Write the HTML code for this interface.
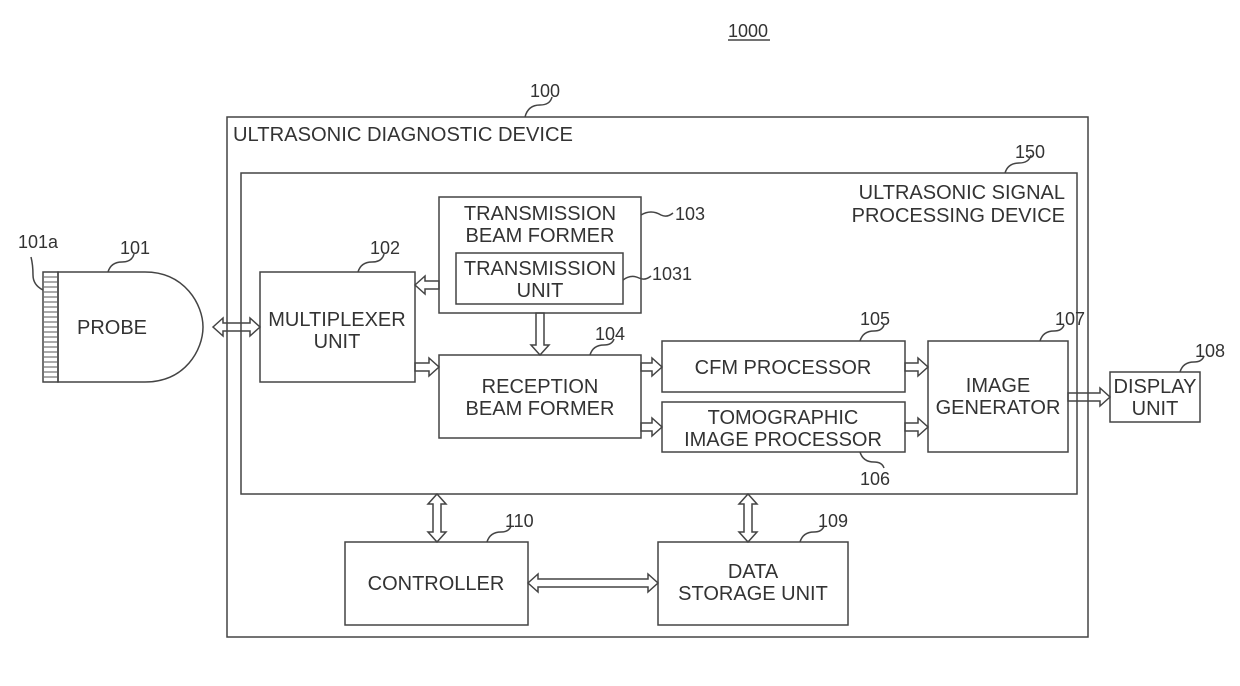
<!DOCTYPE html>
<html><head><meta charset="utf-8"><style>body{margin:0;background:#fff}svg{display:block}</style></head><body>
<svg width="1240" height="686" viewBox="0 0 1240 686" xmlns="http://www.w3.org/2000/svg" font-family="Liberation Sans, sans-serif" font-size="20" fill="#333">
<g fill="none" stroke="#444" stroke-width="1.5">
<rect x="227" y="117" width="861" height="520"/>
<rect x="241" y="173" width="836" height="321"/>
<rect x="260" y="272" width="155" height="110"/>
<rect x="439" y="197" width="202" height="116"/>
<rect x="456" y="253" width="167" height="51"/>
<rect x="439" y="355" width="202" height="83"/>
<rect x="662" y="341" width="243" height="51"/>
<rect x="662" y="402" width="243" height="50"/>
<rect x="928" y="341" width="140" height="111"/>
<rect x="1110" y="372" width="90" height="50"/>
<rect x="345" y="542" width="183" height="83"/>
<rect x="658" y="542" width="190" height="83"/>
<path d="M58 272 H145 C185 272 203 305 203 327 C203 350 185 382 145 382 H58 Z"/>
<rect x="43" y="272" width="15" height="110"/>
<!-- arrows -->
<polygon points="213,327 223,318 223,323 250,323 250,318 260,327 250,336 250,331 223,331 223,336"/>
<polygon points="415,285 425,276 425,281 439,281 439,289 425,289 425,294"/>
<polygon points="415,363 429,363 429,358 439,367 429,376 429,371 415,371"/>
<polygon points="536,313 544,313 544,345 549,345 540,355 531,345 536,345"/>
<polygon points="641,363 652,363 652,358 662,367 652,376 652,371 641,371"/>
<polygon points="641,423 652,423 652,418 662,427 652,436 652,431 641,431"/>
<polygon points="905,363 918,363 918,358 928,367 918,376 918,371 905,371"/>
<polygon points="905,423 918,423 918,418 928,427 918,436 918,431 905,431"/>
<polygon points="1068,393 1100,393 1100,388 1110,397 1100,406 1100,401 1068,401"/>
<polygon points="437,494 446,504 441,504 441,532 446,532 437,542 428,532 433,532 433,504 428,504"/>
<polygon points="748,494 757,504 752,504 752,532 757,532 748,542 739,532 744,532 744,504 739,504"/>
<polygon points="528,583 538,574 538,579 648,579 648,574 658,583 648,592 648,587 538,587 538,592"/>
<!-- leaders -->
<path d="M525 117 q3 -12 15 -12 q10 0 12 -8"/>
<path d="M1005 173 q3 -10 14 -10 q10 0 12 -8"/>
<path d="M108 272 q3 -10 14 -10 q10 0 12 -8"/>
<path d="M43 290 q-10 -5 -10 -15 q0 -10 -2 -18"/>
<path d="M358 272 q3 -10 14 -10 q10 0 12 -8"/>
<path d="M641 215 q10 -6 20 0 q6 3 12 -2"/>
<path d="M623 280 q8 -6 16 -2 q6 3 12 -2"/>
<path d="M590 355 q3 -10 14 -10 q8 0 10 -6"/>
<path d="M860 341 q3 -10 14 -10 q8 0 10 -6"/>
<path d="M860 452 q3 10 14 10 q8 0 10 6"/>
<path d="M1040 341 q3 -10 14 -10 q8 0 10 -6"/>
<path d="M1180 372 q3 -10 14 -10 q8 0 10 -6"/>
<path d="M487 542 q3 -10 14 -10 q8 0 10 -6"/>
<path d="M800 542 q3 -10 14 -10 q8 0 10 -6"/>
<path d="M728 40 H770"/>
</g>
<g stroke="#555" stroke-width="1">
<path d="M44 277H57M44 282H57M44 287H57M44 292H57M44 297H57M44 302H57M44 307H57M44 312H57M44 317H57M44 322H57M44 327H57M44 332H57M44 337H57M44 342H57M44 347H57M44 352H57M44 357H57M44 362H57M44 367H57M44 372H57M44 377H57"/>
</g>
<g font-size="18">
<text x="728" y="37">1000</text>
<text x="530" y="97">100</text>
<text x="1015" y="158">150</text>
<text x="18" y="248">101a</text>
<text x="120" y="254">101</text>
<text x="370" y="254">102</text>
<text x="675" y="220">103</text>
<text x="652" y="280">1031</text>
<text x="595" y="340">104</text>
<text x="860" y="325">105</text>
<text x="860" y="485">106</text>
<text x="1055" y="325">107</text>
<text x="1195" y="357">108</text>
<text x="505" y="527">110</text>
<text x="818" y="527">109</text>
</g>
<text x="233" y="141" textLength="340" lengthAdjust="spacingAndGlyphs">ULTRASONIC DIAGNOSTIC DEVICE</text>
<text x="1065" y="199" text-anchor="end">ULTRASONIC SIGNAL</text>
<text x="1065" y="222" text-anchor="end">PROCESSING DEVICE</text>
<g text-anchor="middle">
<text x="112" y="334">PROBE</text>
<text x="337" y="326">MULTIPLEXER</text>
<text x="337" y="348">UNIT</text>
<text x="540" y="220">TRANSMISSION</text>
<text x="540" y="242">BEAM FORMER</text>
<text x="540" y="275">TRANSMISSION</text>
<text x="540" y="297">UNIT</text>
<text x="540" y="393">RECEPTION</text>
<text x="540" y="415">BEAM FORMER</text>
<text x="783" y="374">CFM PROCESSOR</text>
<text x="783" y="424">TOMOGRAPHIC</text>
<text x="783" y="446">IMAGE PROCESSOR</text>
<text x="998" y="392">IMAGE</text>
<text x="998" y="414">GENERATOR</text>
<text x="1155" y="393">DISPLAY</text>
<text x="1155" y="415">UNIT</text>
<text x="436" y="590">CONTROLLER</text>
<text x="753" y="578">DATA</text>
<text x="753" y="600">STORAGE UNIT</text>
</g>
</svg>
</body></html>
